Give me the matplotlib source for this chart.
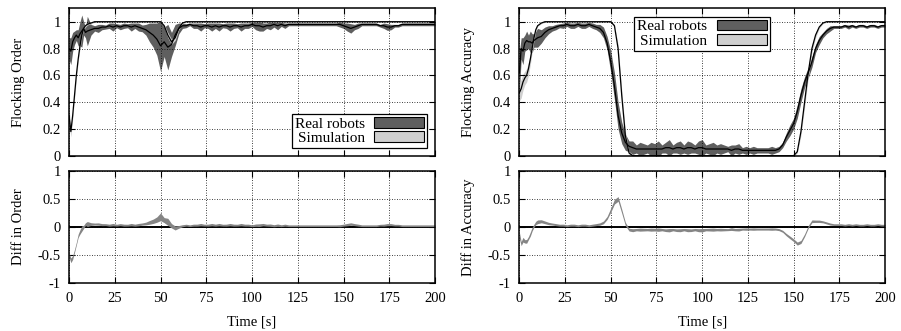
import matplotlib
matplotlib.use("Agg")
import matplotlib.pyplot as plt
from matplotlib.patches import Patch
import numpy as np

# --- sample times [s]: 1 s steps for the first 10 s, then 2 s steps ---
TIME = list(range(0, 10)) + list(range(10, 201, 2))

# --- Flocking order ---
order_real = [
    0.80, 0.78, 0.85, 0.88, 0.90, 0.88, 0.91, 0.93, 0.95, 0.92,
    0.93, 0.94, 0.95, 0.95, 0.96, 0.96, 0.97, 0.96, 0.97, 0.96,
    0.97, 0.97, 0.96, 0.97, 0.96, 0.95, 0.94, 0.92, 0.90, 0.87,
    0.82, 0.85, 0.81, 0.83, 0.90, 0.95, 0.97, 0.97, 0.98, 0.97,
    0.97, 0.96, 0.97, 0.97, 0.96, 0.97, 0.96, 0.97, 0.97, 0.96,
    0.97, 0.97, 0.96, 0.97, 0.97, 0.98, 0.97, 0.97, 0.96, 0.97,
    0.97, 0.98, 0.97, 0.98, 0.97, 0.98, 0.98, 0.98, 0.98, 0.98,
    0.98, 0.98, 0.98, 0.98, 0.98, 0.98, 0.98, 0.98, 0.98, 0.98,
    0.97, 0.96, 0.95, 0.96, 0.97, 0.98, 0.98, 0.98, 0.98, 0.98,
    0.97, 0.97, 0.96, 0.96, 0.97, 0.97, 0.98, 0.98, 0.98, 0.98,
    0.98, 0.98, 0.98, 0.98, 0.98, 0.98,
]
order_real_spread = [
    0.08, 0.10, 0.07, 0.05, 0.04, 0.06, 0.09, 0.12, 0.05, 0.04,
    0.11, 0.04, 0.02, 0.03, 0.02, 0.015, 0.02, 0.03, 0.015, 0.02,
    0.02, 0.015, 0.03, 0.02, 0.03, 0.025, 0.04, 0.07, 0.09, 0.12,
    0.19, 0.11, 0.17, 0.09, 0.08, 0.04, 0.02, 0.015, 0.01, 0.02,
    0.02, 0.03, 0.015, 0.02, 0.03, 0.02, 0.03, 0.015, 0.02, 0.03,
    0.02, 0.015, 0.03, 0.02, 0.02, 0.015, 0.03, 0.04, 0.03, 0.02,
    0.03, 0.02, 0.03, 0.015, 0.02, 0.01, 0.01, 0.01, 0.01, 0.01,
    0.01, 0.01, 0.01, 0.01, 0.01, 0.01, 0.01, 0.01, 0.01, 0.02,
    0.02, 0.03, 0.035, 0.02, 0.02, 0.01, 0.01, 0.01, 0.01, 0.01,
    0.01, 0.02, 0.025, 0.02, 0.01, 0.01, 0.01, 0.01, 0.01, 0.01,
    0.01, 0.01, 0.01, 0.01, 0.01, 0.01,
]
order_sim = [
    0.30, 0.18, 0.30, 0.45, 0.60, 0.72, 0.82, 0.90, 0.95, 0.97,
    0.98, 0.99, 1.00, 1.00, 1.00, 1.00, 1.00, 1.00, 1.00, 1.00,
    1.00, 1.00, 1.00, 1.00, 1.00, 1.00, 1.00, 1.00, 1.00, 1.00,
    1.00, 0.97, 0.90, 0.85, 0.88, 0.95, 0.99, 1.00, 1.00, 1.00,
    1.00, 1.00, 1.00, 1.00, 1.00, 1.00, 1.00, 1.00, 1.00, 1.00,
    1.00, 1.00, 1.00, 1.00, 1.00, 1.00, 1.00, 1.00, 1.00, 1.00,
    1.00, 1.00, 1.00, 1.00, 1.00, 1.00, 1.00, 1.00, 1.00, 1.00,
    1.00, 1.00, 1.00, 1.00, 1.00, 1.00, 1.00, 1.00, 1.00, 1.00,
    1.00, 1.00, 1.00, 1.00, 1.00, 1.00, 1.00, 1.00, 1.00, 1.00,
    1.00, 1.00, 1.00, 1.00, 1.00, 1.00, 1.00, 1.00, 1.00, 1.00,
    1.00, 1.00, 1.00, 1.00, 1.00, 1.00,
]
order_sim_spread = [
    0.05, 0.04, 0.03, 0.03, 0.03, 0.02, 0.02, 0.01, 0.01, 0.01,
    0.005, 0.005, 0.005, 0.005, 0.005, 0.005, 0.005, 0.005, 0.005, 0.005,
    0.005, 0.005, 0.005, 0.005, 0.005, 0.005, 0.005, 0.005, 0.005, 0.005,
    0.005, 0.01, 0.02, 0.02, 0.02, 0.01, 0.005, 0.005, 0.005, 0.005,
    0.005, 0.005, 0.005, 0.005, 0.005, 0.005, 0.005, 0.005, 0.005, 0.005,
    0.005, 0.005, 0.005, 0.005, 0.005, 0.005, 0.005, 0.005, 0.005, 0.005,
    0.005, 0.005, 0.005, 0.005, 0.005, 0.005, 0.005, 0.005, 0.005, 0.005,
    0.005, 0.005, 0.005, 0.005, 0.005, 0.005, 0.005, 0.005, 0.005, 0.005,
    0.005, 0.005, 0.005, 0.005, 0.005, 0.005, 0.005, 0.005, 0.005, 0.005,
    0.005, 0.005, 0.005, 0.005, 0.005, 0.005, 0.005, 0.005, 0.005, 0.005,
    0.005, 0.005, 0.005, 0.005, 0.005, 0.005,
]

# --- Flocking accuracy ---
acc_real = [
    0.62, 0.80, 0.78, 0.84, 0.86, 0.85, 0.85, 0.84, 0.86, 0.87,
    0.88, 0.89, 0.92, 0.94, 0.95, 0.96, 0.97, 0.97, 0.98, 0.97,
    0.97, 0.98, 0.97, 0.97, 0.98, 0.97, 0.96, 0.95, 0.92, 0.84,
    0.70, 0.52, 0.30, 0.17, 0.10, 0.07, 0.06, 0.05, 0.05, 0.05,
    0.05, 0.05, 0.05, 0.05, 0.05, 0.06, 0.06, 0.05, 0.06, 0.06,
    0.05, 0.06, 0.06, 0.05, 0.06, 0.06, 0.05, 0.05, 0.05, 0.05,
    0.05, 0.05, 0.05, 0.04, 0.05, 0.05, 0.04, 0.04, 0.04, 0.04,
    0.04, 0.04, 0.04, 0.04, 0.04, 0.04, 0.05, 0.08, 0.14, 0.19,
    0.24, 0.33, 0.45, 0.55, 0.62, 0.70, 0.80, 0.86, 0.90, 0.93,
    0.95, 0.96, 0.96, 0.96, 0.97, 0.96, 0.97, 0.96, 0.97, 0.97,
    0.96, 0.97, 0.97, 0.96, 0.97, 0.97,
]
acc_real_spread = [
    0.15, 0.08, 0.10, 0.06, 0.07, 0.05, 0.08, 0.07, 0.05, 0.06,
    0.07, 0.05, 0.04, 0.03, 0.02, 0.02, 0.015, 0.02, 0.015, 0.02,
    0.02, 0.015, 0.02, 0.02, 0.015, 0.02, 0.02, 0.03, 0.04, 0.05,
    0.08, 0.10, 0.10, 0.08, 0.06, 0.04, 0.05, 0.03, 0.05, 0.04,
    0.03, 0.05, 0.04, 0.06, 0.03, 0.04, 0.06, 0.03, 0.04, 0.05,
    0.03, 0.05, 0.04, 0.03, 0.05, 0.06, 0.03, 0.04, 0.05, 0.03,
    0.04, 0.03, 0.02, 0.04, 0.03, 0.04, 0.02, 0.03, 0.02, 0.03,
    0.02, 0.02, 0.02, 0.02, 0.03, 0.02, 0.02, 0.02, 0.03, 0.04,
    0.04, 0.05, 0.05, 0.04, 0.04, 0.04, 0.03, 0.03, 0.02, 0.02,
    0.02, 0.01, 0.01, 0.01, 0.01, 0.015, 0.01, 0.01, 0.01, 0.01,
    0.01, 0.01, 0.01, 0.01, 0.01, 0.01,
]
acc_sim = [
    0.47, 0.50, 0.55, 0.58, 0.60, 0.65, 0.72, 0.80, 0.88, 0.94,
    0.97, 0.99, 1.00, 1.00, 1.00, 1.00, 1.00, 1.00, 1.00, 1.00,
    1.00, 1.00, 1.00, 1.00, 1.00, 1.00, 1.00, 1.00, 1.00, 1.00,
    1.00, 0.97, 0.80, 0.45, 0.15, 0.02, 0.00, 0.00, 0.00, 0.00,
    0.00, 0.00, 0.00, 0.00, 0.00, 0.00, 0.00, 0.00, 0.00, 0.00,
    0.00, 0.00, 0.00, 0.00, 0.00, 0.00, 0.00, 0.00, 0.00, 0.00,
    0.00, 0.00, 0.00, 0.00, 0.00, 0.00, 0.00, 0.00, 0.00, 0.00,
    0.00, 0.00, 0.00, 0.00, 0.00, 0.00, 0.00, 0.00, 0.00, 0.00,
    0.00, 0.03, 0.18, 0.40, 0.62, 0.80, 0.90, 0.96, 0.99, 1.00,
    1.00, 1.00, 1.00, 1.00, 1.00, 1.00, 1.00, 1.00, 1.00, 1.00,
    1.00, 1.00, 1.00, 1.00, 1.00, 1.00,
]
acc_sim_spread = [
    0.06, 0.07, 0.06, 0.05, 0.05, 0.05, 0.04, 0.03, 0.02, 0.01,
    0.005, 0.005, 0.005, 0.005, 0.005, 0.005, 0.005, 0.005, 0.005, 0.005,
    0.005, 0.005, 0.005, 0.005, 0.005, 0.005, 0.005, 0.005, 0.005, 0.005,
    0.005, 0.01, 0.03, 0.04, 0.03, 0.01, 0.005, 0.005, 0.005, 0.005,
    0.005, 0.005, 0.005, 0.005, 0.005, 0.005, 0.005, 0.005, 0.005, 0.005,
    0.005, 0.005, 0.005, 0.005, 0.005, 0.005, 0.005, 0.005, 0.005, 0.005,
    0.005, 0.005, 0.005, 0.005, 0.005, 0.005, 0.005, 0.005, 0.005, 0.005,
    0.005, 0.005, 0.005, 0.005, 0.005, 0.005, 0.005, 0.005, 0.005, 0.005,
    0.005, 0.01, 0.03, 0.04, 0.04, 0.03, 0.02, 0.01, 0.005, 0.005,
    0.005, 0.005, 0.005, 0.005, 0.005, 0.005, 0.005, 0.005, 0.005, 0.005,
    0.005, 0.005, 0.005, 0.005, 0.005, 0.005,
]

X_TICKS = [0, 25, 50, 75, 100, 125, 150, 175, 200]
TOP_Y_TICKS = [0, 0.2, 0.4, 0.6, 0.8, 1]
DIFF_Y_TICKS = [-1, -0.5, 0, 0.5, 1]

REAL_COLOR = "#5f5f5f"
SIM_COLOR = "#cfcfcf"
DIFF_COLOR = "#858585"

plt.rcParams["font.family"] = ["Liberation Serif", "DejaVu Serif"]
plt.rcParams["font.size"] = 10.5


def style_axes(ax, yticks, ylim, show_x):
    ax.set_xlim(0, 200)
    ax.set_ylim(*ylim)
    ax.set_xticks(X_TICKS)
    ax.set_yticks(yticks)
    ax.set_yticklabels([f"{v:g}" for v in yticks])
    ax.grid(True, color="black", linestyle=(0, (1, 2)), linewidth=0.6)
    ax.tick_params(direction="in", top=True, right=True, length=4, width=0.8,
                   labelbottom=show_x)
    ax.tick_params(axis="y", pad=6)
    ax.tick_params(axis="x", pad=7)
    for sp in ax.spines.values():
        sp.set_linewidth(1.1)


def draw_top(ax, t, real, real_sp, sim, sim_sp):
    real = np.array(real)
    sim = np.array(sim)
    ax.fill_between(t, real - np.array(real_sp), real + np.array(real_sp),
                    color=REAL_COLOR, lw=0)
    ax.fill_between(t, sim - np.array(sim_sp), sim + np.array(sim_sp),
                    color=SIM_COLOR, lw=0)
    ax.plot(t, sim, color="black", lw=0.9)
    ax.plot(t, real, color="black", lw=0.9)


def draw_diff(ax, t, real, real_sp, sim):
    diff = np.array(sim) - np.array(real)
    w = 0.012 + 0.3 * np.array(real_sp)
    ax.axhline(0, color="black", lw=1.4, zorder=1)
    ax.fill_between(t, diff - w, diff + w, color=DIFF_COLOR, lw=0, zorder=2)


fig = plt.figure(figsize=(9.01, 3.31), dpi=100)
ax_o = fig.add_axes([0.0766, 0.5296, 0.4062, 0.4453])
ax_od = fig.add_axes([0.0766, 0.1459, 0.4062, 0.3375])
ax_a = fig.add_axes([0.5764, 0.5296, 0.4059, 0.4453])
ax_ad = fig.add_axes([0.5764, 0.1459, 0.4059, 0.3375])

draw_top(ax_o, TIME, order_real, order_real_spread, order_sim, order_sim_spread)
draw_diff(ax_od, TIME, order_real, order_real_spread, order_sim)
draw_top(ax_a, TIME, acc_real, acc_real_spread, acc_sim, acc_sim_spread)
draw_diff(ax_ad, TIME, acc_real, acc_real_spread, acc_sim)

style_axes(ax_o, TOP_Y_TICKS, (0, 1.1), False)
style_axes(ax_a, TOP_Y_TICKS, (0, 1.1), False)
style_axes(ax_od, DIFF_Y_TICKS, (-1, 1), True)
style_axes(ax_ad, DIFF_Y_TICKS, (-1, 1), True)

ax_o.set_ylabel("Flocking Order")
ax_a.set_ylabel("Flocking Accuracy")
ax_od.set_ylabel("Diff in Order")
ax_ad.set_ylabel("Diff in Accuracy")
ax_od.set_xlabel("Time [s]", labelpad=7)
ax_ad.set_xlabel("Time [s]", labelpad=7)
for ax in (ax_o, ax_a, ax_od, ax_ad):
    ax.yaxis.set_label_coords(-0.12, 0.5)

handles = [Patch(facecolor=REAL_COLOR, edgecolor="black", lw=0.8),
           Patch(facecolor=SIM_COLOR, edgecolor="black", lw=0.8)]
labels = ["Real robots", "Simulation"]
leg_kw = dict(markerfirst=False, fancybox=False, framealpha=1, edgecolor="black",
              handlelength=3.3, handleheight=0.7, borderpad=0.2,
              labelspacing=0.05, handletextpad=0.6, borderaxespad=0.5,
              fontsize=11)
leg = ax_o.legend(handles, labels, loc="lower right", **leg_kw)
leg.get_frame().set_linewidth(0.9)
leg = ax_a.legend(handles, labels, loc="upper center",
                  bbox_to_anchor=(0.5, 0.995), **leg_kw)
leg.get_frame().set_linewidth(0.9)

fig.savefig("out.png", dpi=100)
